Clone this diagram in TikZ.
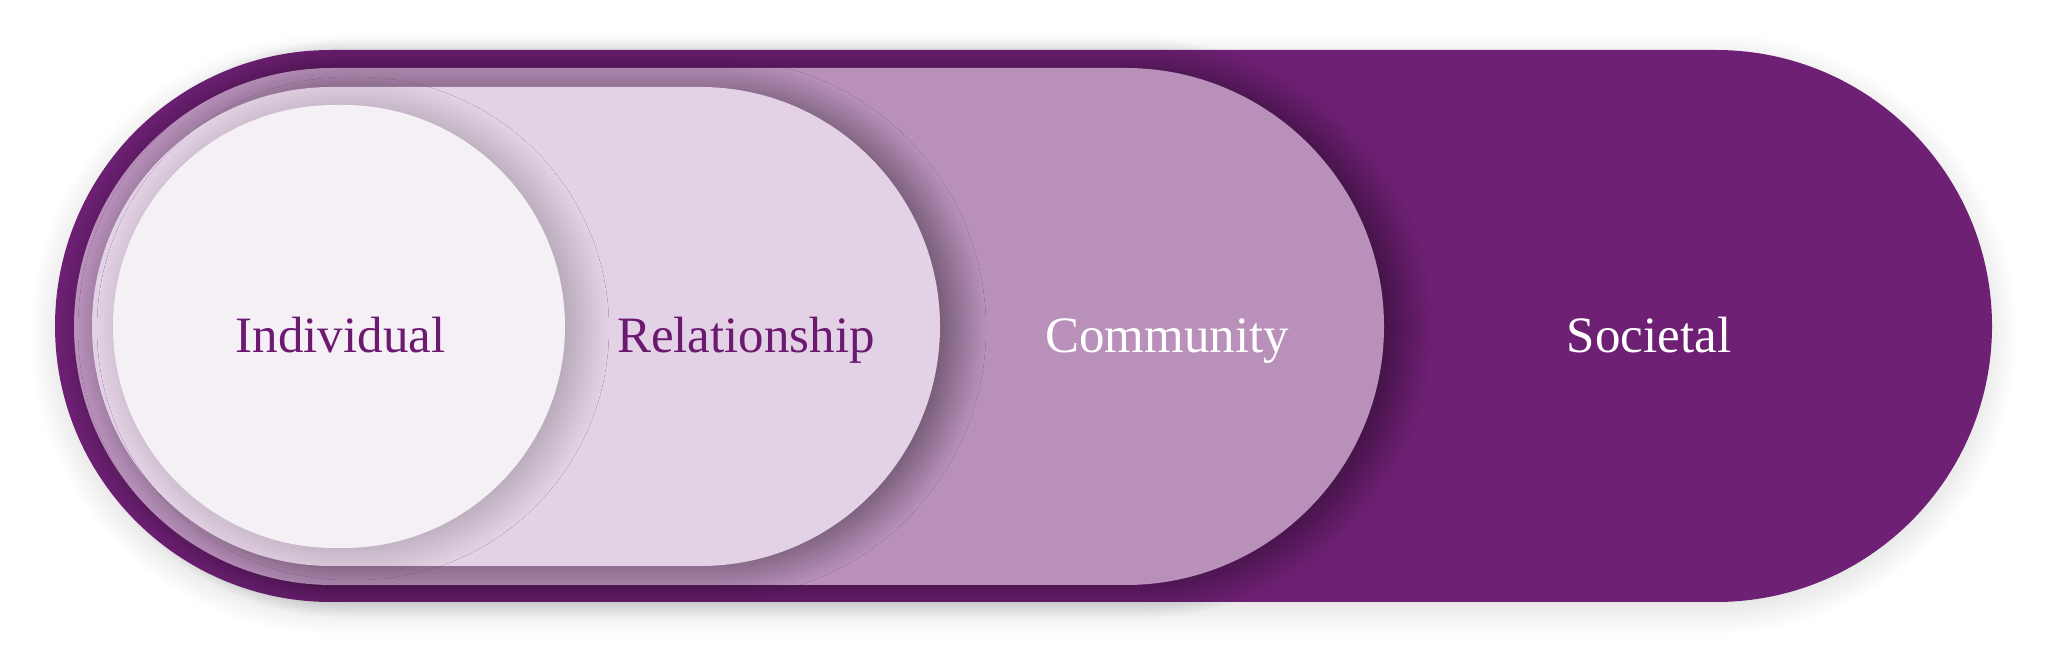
\documentclass[tikz,border=0pt]{standalone}
\usepackage{fontspec}
\setmainfont{Liberation Serif}
\usetikzlibrary{shapes.misc,shadows.blur}
\definecolor{societal}{HTML}{6E2074}
\definecolor{community}{HTML}{B890BA}
\definecolor{relation}{HTML}{E3D2E5}
\definecolor{individ}{HTML}{F5F0F6}
\definecolor{inktext}{HTML}{6B1A70}

\begin{document}
\begin{tikzpicture}[x=1pt,y=1pt,
  ring/.style={rounded rectangle,inner sep=0pt,outer sep=0pt,draw=none},
  lvltext/.style={font=\fontsize{51}{60}\selectfont,anchor=base}]
\useasboundingbox (0,0) rectangle (2048,664);

\node (Soc)[ring,fill=societal,minimum width=1937pt,minimum height=552pt,
  blur shadow={shadow xshift=0pt,shadow yshift=-8pt,shadow blur radius=26pt,shadow blur steps=40,shadow opacity=14}] at (1023.5,338) {};
\node (Com)[ring,fill=community,minimum width=1310pt,minimum height=517pt,
  blur shadow={shadow xshift=16pt,shadow yshift=-2pt,shadow blur radius=32pt,shadow blur steps=40,shadow opacity=50}] at (729,337.5) {};
\node (Rel)[ring,fill=relation,minimum width=848pt,minimum height=479pt,
  blur shadow={shadow xshift=16pt,shadow yshift=-2pt,shadow blur radius=30pt,shadow blur steps=40,shadow opacity=45}] at (516,337.5) {};
\node (Ind)[ring,fill=individ,minimum width=452pt,minimum height=443pt,
  blur shadow={shadow xshift=14pt,shadow yshift=-2pt,shadow blur radius=30pt,shadow blur steps=40,shadow opacity=25}] at (339,337.5) {};

\node (IndT)[lvltext,text=inktext] at (340.5,311) {Individual};
\node (RelT)[lvltext,text=inktext] at (746,311) {Relationship};
\node (ComT)[lvltext,text=white] at (1167,311) {Community};
\node (SocT)[lvltext,text=white] at (1649,311) {Societal};
\end{tikzpicture}
\end{document}
